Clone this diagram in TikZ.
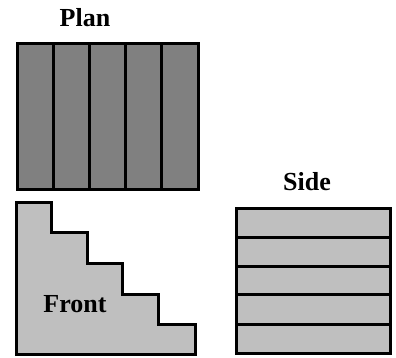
\documentclass[tikz,border=0pt]{standalone}
\usepackage{fontspec}
\setmainfont{Liberation Serif}
\definecolor{dark}{gray}{0.5}
\definecolor{light}{gray}{0.75}
\tikzset{
  part/.style={draw=black,line width=3pt,line join=miter},
  lbl/.style={font=\fontsize{26}{27}\selectfont\bfseries,inner sep=0pt,anchor=base}
}
\begin{document}
\begin{tikzpicture}[x=1pt,y=-1pt]
\useasboundingbox (0,0) rectangle (396,358);
% Plan
\foreach \a/\b in {17/53,53/89,89/125,125/161,161/198}{
  \draw[part,fill=dark] (\a,44) rectangle (\b,190);
}
% Front
\draw[part,fill=light] (16,202.5) -- (51.5,202.5) -- (51.5,232.5) -- (87.5,232.5) -- (87.5,263.5) -- (122.5,263.5) -- (122.5,294) -- (158.5,294) -- (158.5,324.5) -- (195.5,324.5) -- (195.5,354) -- (16,354) -- cycle;
% Side
\foreach \a/\b in {208.5/237,237/266,266/294.5,294.5/324,324/353.5}{
  \draw[part,fill=light] (236,\a) rectangle (390,\b);
}
\node[lbl] (plan) at (85,26.7) {Plan};
\node[lbl] (front) at (75,312) {Front};
\node[lbl] (side) at (307,190) {Side};
\end{tikzpicture}
\end{document}
